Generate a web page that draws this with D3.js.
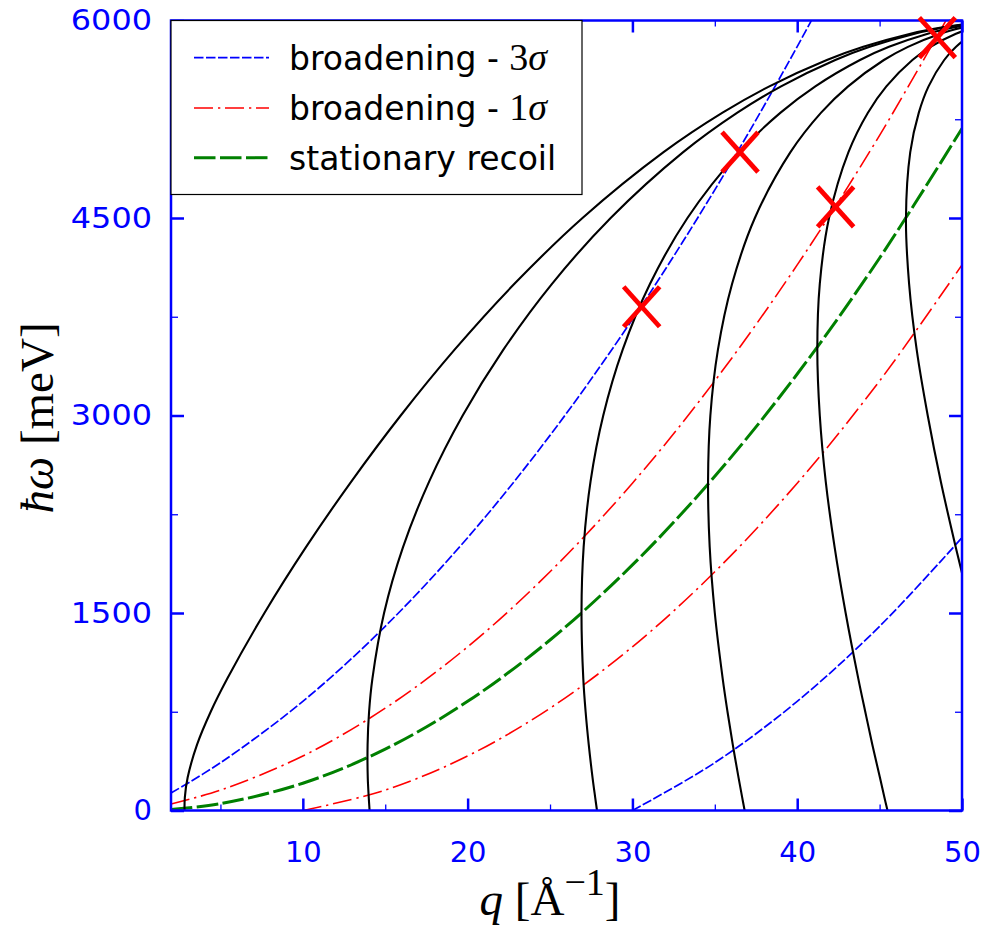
<!DOCTYPE html>
<html><head><meta charset="utf-8">
<script src="https://cdn.jsdelivr.net/npm/d3@7/dist/d3.min.js"></script>
<style>body{margin:0;background:#fff}</style>
</head><body><svg id="c" width="984" height="929"></svg>
<script>
// ---- tick labels ----
const xTicks = [10, 20, 30, 40, 50];
const xMinor = [5, 15, 25, 35, 45];
const yTicks = [0, 1500, 3000, 4500, 6000];
const yMinor = [750, 2250, 3750, 5250];

// ---- constant-angle trajectories: energy transfer grid (meV) and q (1/Å) per angle ----
const energyGrid = [0, 100, 250, 500, 750, 1000, 1500, 2000, 2500, 3000, 3500, 4000, 4500, 5000, 5300, 5500, 5700, 5800, 5900, 5950, 5970, 6000];
const q3deg  = [2.82, 2.84, 3.01, 3.58, 4.41, 5.41, 7.67, 10.19, 12.95, 15.94, 19.21, 22.84, 26.97, 31.89, 35.47, 38.31, 41.80, 44.01, 46.87, 48.91, 50.00, 53.81];
const q15deg = [14.05, 14.00, 13.94, 13.93, 14.02, 14.22, 14.93, 16.08, 17.67, 19.70, 22.17, 25.12, 28.68, 33.08, 36.37, 39.02, 42.31, 44.40, 47.13, 49.08, 50.14, 53.81];
const q30deg = [27.85, 27.74, 27.58, 27.35, 27.16, 27.02, 26.91, 27.04, 27.46, 28.23, 29.41, 31.07, 33.34, 36.48, 38.99, 41.10, 43.81, 45.57, 47.92, 49.62, 50.55, 53.81];
const q40deg = [36.81, 36.66, 36.44, 36.09, 35.77, 35.48, 35.00, 34.69, 34.59, 34.73, 35.19, 36.05, 37.43, 39.59, 41.45, 43.09, 45.26, 46.72, 48.69, 50.15, 50.95, 53.81];
const q50deg = [45.48, 45.29, 45.02, 44.56, 44.13, 43.71, 42.94, 42.27, 41.73, 41.37, 41.22, 41.37, 41.93, 43.11, 44.29, 45.41, 46.99, 48.09, 49.63, 50.79, 51.45, 53.81];
const q60deg = [53.81, 53.59, 53.25, 52.70, 52.16, 51.63, 50.59, 49.62, 48.71, 47.92, 47.25, 46.79, 46.60, 46.86, 47.38, 47.97, 48.92, 49.64, 50.69, 51.53, 52.01, 53.81];

// ---- recoil line and broadening bands ----
const qGrid = [2, 5, 10, 15, 20, 25, 30, 35, 40, 45, 50];
const recoil      = [8.3, 51.8, 207, 466, 829, 1295, 1865, 2538, 3315, 4196, 5180];
const upper1sigma = [49.7, 155, 414, 777, 1243, 1813, 2486, 3263, 4144, 5128, 6216];
const upper3sigma = [132.6, 362.6, 829, 1399, 2072, 2849, 3730, 4714, 5802, 6993, 8288];
const qLower1 = [10, 15, 20, 25, 30, 35, 40, 45, 50];
const lower1sigma = [0, 155, 414, 777, 1243, 1813, 2486, 3263, 4144];
const qLower3 = [30, 35, 40, 45, 50];
const lower3sigma = [0, 363, 829, 1399, 2072];

// ---- marked crossings ----
const markQ = [30.56, 36.53, 42.33, 48.5];
const markE = [3826, 5001, 4584, 5870];

const legendLabels = [["broadening - ", "3", "σ"], ["broadening - ", "1", "σ"], ["stationary recoil", "", ""]];

// ---- layout ----
const L = 171, R = 962, T = 20.5, B = 810.5;
const x = d3.scaleLinear().domain([2, 50]).range([L, R]);
const y = d3.scaleLinear().domain([0, 6000]).range([B, T]);
const svg = d3.select('#c');
const BLUE = '#0000ff', RED = '#ff0000', GREEN = '#008000';

svg.append('defs').append('clipPath').attr('id', 'clip')
  .append('rect').attr('x', L).attr('y', T).attr('width', R - L).attr('height', B - T);

const line = d3.line().x(d => x(d[0])).y(d => y(d[1])).curve(d3.curveCatmullRom.alpha(0.5));
const plot = svg.append('g').attr('clip-path', 'url(#clip)');

const zip = (a, b) => a.map((v, i) => [v, b[i]]);

// broadening
const styles = {
  blue: {stroke: BLUE, w: 1.7, dash: '9.5 2.5'},
  red: {stroke: RED, w: 1.6, dash: '19 5 2.3 4.7'},
  green: {stroke: GREEN, w: 3, dash: '21.5 4.5'}
};
function drawSeries(data, st) {
  plot.append('path').datum(data).attr('d', line)
    .attr('fill', 'none').attr('stroke', st.stroke).attr('stroke-width', st.w)
    .attr('stroke-dasharray', st.dash);
}
drawSeries(zip(qGrid, upper3sigma), styles.blue);
drawSeries(zip(qLower3, lower3sigma), styles.blue);
drawSeries(zip(qGrid, upper1sigma), styles.red);
drawSeries(zip(qLower1, lower1sigma), styles.red);
drawSeries(zip(qGrid, recoil), styles.green);

// trajectories
[q3deg, q15deg, q30deg, q40deg, q50deg, q60deg].forEach(qs => {
  plot.append('path').datum(zip(qs, energyGrid)).attr('d', line)
    .attr('fill', 'none').attr('stroke', '#000').attr('stroke-width', 2.1);
});

// axes
const fontTick = '"DejaVu Sans", sans-serif';
function styleAxis(g, showText) {
  g.select('.domain').remove();
  g.selectAll('.tick line').attr('stroke', BLUE);
  if (!showText) g.selectAll('.tick text').remove();
  else g.selectAll('.tick text').attr('fill', BLUE).style('font-family', fontTick).style('font-size', '29px');
}
// bottom
svg.append('g').attr('transform', `translate(0,${B})`)
  .call(d3.axisBottom(x).tickValues(xTicks).tickSize(-12).tickPadding(31).tickFormat(d3.format('d')))
  .call(g => styleAxis(g, true)).selectAll('.tick line').attr('stroke-width', 2.5);
svg.append('g').attr('transform', `translate(0,${B})`)
  .call(d3.axisBottom(x).tickValues(xMinor).tickSize(-6))
  .call(g => styleAxis(g, false)).selectAll('.tick line').attr('stroke-width', 1.3);
// top
svg.append('g').attr('transform', `translate(0,${T})`)
  .call(d3.axisTop(x).tickValues(xTicks).tickSize(-12))
  .call(g => styleAxis(g, false)).selectAll('.tick line').attr('stroke-width', 2.5);
svg.append('g').attr('transform', `translate(0,${T})`)
  .call(d3.axisTop(x).tickValues(xMinor).tickSize(-6))
  .call(g => styleAxis(g, false)).selectAll('.tick line').attr('stroke-width', 1.3);
// left
const yAx = svg.append('g').attr('transform', `translate(${L},0)`)
  .call(d3.axisLeft(y).tickValues(yTicks).tickSize(-13).tickPadding(19).tickFormat(d3.format('d')))
  .call(g => styleAxis(g, true));
yAx.selectAll('.tick line').attr('stroke-width', 2.5);
yAx.selectAll('.tick text').each(function(d) {
  const s = String(d);
  if (s.length > 1) d3.select(this).attr('textLength', s.length * 20.8 - 2).attr('lengthAdjust', 'spacingAndGlyphs');
});
svg.append('g').attr('transform', `translate(${L},0)`)
  .call(d3.axisLeft(y).tickValues(yMinor).tickSize(-7))
  .call(g => styleAxis(g, false)).selectAll('.tick line').attr('stroke-width', 1.3);
// right
svg.append('g').attr('transform', `translate(${R},0)`)
  .call(d3.axisRight(y).tickValues(yTicks).tickSize(-13))
  .call(g => styleAxis(g, false)).selectAll('.tick line').attr('stroke-width', 2.5);
svg.append('g').attr('transform', `translate(${R},0)`)
  .call(d3.axisRight(y).tickValues(yMinor).tickSize(-7))
  .call(g => styleAxis(g, false)).selectAll('.tick line').attr('stroke-width', 1.3);

// frame
svg.append('rect').attr('x', L).attr('y', T).attr('width', R - L).attr('height', B - T)
  .attr('fill', 'none').attr('stroke', BLUE).attr('stroke-width', 2.5);

// markers
const marks = svg.append('g');
markQ.forEach((q, i) => {
  const cx = x(q), cy = y(markE[i]), hw = 18, hh = 20;
  marks.append('line').attr('x1', cx - hw).attr('y1', cy - hh).attr('x2', cx + hw).attr('y2', cy + hh)
    .attr('stroke', RED).attr('stroke-width', 4.8);
  marks.append('line').attr('x1', cx - hw).attr('y1', cy + hh).attr('x2', cx + hw).attr('y2', cy - hh)
    .attr('stroke', RED).attr('stroke-width', 4.8);
});

// legend
const lg = svg.append('g');
lg.append('rect').attr('x', L).attr('y', T).attr('width', 411).attr('height', 174)
  .attr('fill', '#fff').attr('stroke', '#000').attr('stroke-width', 1.2);
const legStyles = [styles.blue, styles.red, styles.green];
const rowY = [57.7, 108, 157.7];
legendLabels.forEach((lab, i) => {
  const st = legStyles[i];
  lg.append('line').attr('x1', 194).attr('x2', 269).attr('y1', rowY[i]).attr('y2', rowY[i])
    .attr('stroke', st.stroke).attr('stroke-width', st.w).attr('stroke-dasharray', st.dash);
  const t = lg.append('text').attr('x', 289).attr('y', rowY[i]).attr('dy', '0.36em')
    .style('font-family', '"DejaVu Sans", sans-serif').style('font-size', '33px').attr('fill', '#000');
  t.append('tspan').text(lab[0]);
  if (lab[1]) {
    t.append('tspan').style('font-family', '"Liberation Serif", serif').style('font-size', '38px').text(lab[1]);
    t.append('tspan').style('font-family', '"Liberation Serif", serif').style('font-style', 'italic').style('font-size', '38px').text(lab[2]);
  }
});

// axis titles
const serif = '"Liberation Serif", "DejaVu Serif", serif';
const yt = svg.append('text').attr('transform', 'translate(53,418) rotate(-90)')
  .attr('text-anchor', 'middle').style('font-family', serif).style('font-size', '47px').attr('fill', '#000');
yt.append('tspan').style('font-style', 'italic').text('ħω');
yt.append('tspan').text(' [meV]');

const xt = svg.append('text').attr('x', 550).attr('y', 915)
  .attr('text-anchor', 'middle').style('font-family', serif).style('font-size', '47px').attr('fill', '#000');
xt.append('tspan').style('font-style', 'italic').text('q');
xt.append('tspan').text(' [Å');
xt.append('tspan').attr('dy', -20).style('font-size', '38px').text('−1');
xt.append('tspan').attr('dy', 20).text(']');
</script></body></html>
